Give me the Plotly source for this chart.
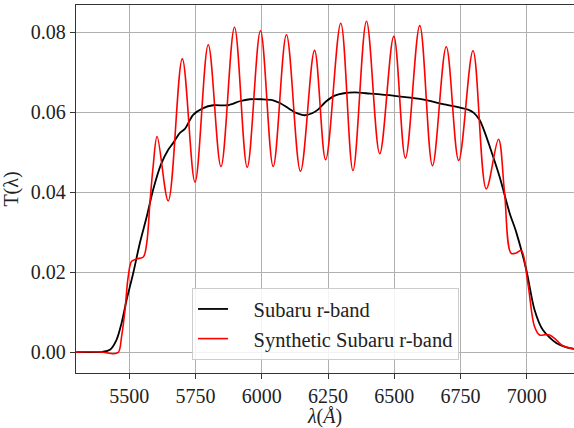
import plotly.graph_objects as go

# Subaru r-band (black)
sub_wl = [5300, 5350, 5400, 5427, 5452, 5471, 5490, 5515, 5540, 5566, 5590, 5620, 5647,
          5666, 5691, 5710, 5741, 5779, 5817, 5873, 5917, 5955, 6000, 6040, 6070, 6099,
          6130, 6162, 6190, 6212, 6240, 6275, 6310, 6351, 6409, 6495, 6596, 6684, 6778,
          6800, 6822, 6841, 6860, 6897, 6935, 6960, 6998, 7029, 7060, 7111, 7150, 7180]
sub_T = [0.0, 0.0, 0.0001, 0.0006, 0.0031, 0.0073, 0.0131, 0.0198, 0.0273, 0.0339, 0.0406,
         0.0470, 0.0506, 0.0523, 0.0548, 0.0558, 0.0593, 0.0610, 0.0617, 0.0617, 0.0627,
         0.0632, 0.0632, 0.0630, 0.0622, 0.0610, 0.0598, 0.0592, 0.0597, 0.0606, 0.0625,
         0.0641, 0.0647, 0.0649, 0.0646, 0.0641, 0.0633, 0.0620, 0.0606, 0.0598, 0.0580,
         0.0550, 0.0514, 0.0439, 0.0348, 0.0300, 0.0206, 0.0106, 0.0056, 0.0023, 0.0012,
         0.0008]

# Synthetic Subaru r-band (red)
syn_wl = [5300, 5350, 5400, 5440, 5459, 5471, 5484, 5496, 5509, 5528, 5553, 5566, 5578,
          5590, 5605, 5647, 5700, 5748, 5798, 5846, 5897, 5945, 5995, 6043, 6093, 6146,
          6199, 6241, 6298, 6344, 6395, 6445, 6498, 6542, 6596, 6644, 6696, 6743, 6797,
          6847, 6893, 6916, 6941, 6960, 6979, 7004, 7029, 7048, 7070, 7086, 7111, 7136,
          7180]
syn_T = [0.0, 0.0001, 0.0, -0.0004, 0.0, 0.0039, 0.0106, 0.0189, 0.0227, 0.0233, 0.0238,
         0.0273, 0.0373, 0.0464, 0.0539, 0.0378, 0.0733, 0.0425, 0.0768, 0.0464, 0.0812,
         0.0462, 0.0803, 0.0464, 0.0793, 0.0452, 0.0754, 0.0481, 0.0822, 0.0454, 0.0827,
         0.0496, 0.0789, 0.0485, 0.0816, 0.0466, 0.0763, 0.0479, 0.0753, 0.0408, 0.0532,
         0.0398, 0.0247, 0.0248, 0.0254, 0.0172, 0.0064, 0.0043, 0.0044, 0.0043, 0.0031,
         0.0016, 0.0008]

x_ticks = [5500, 5750, 6000, 6250, 6500, 6750, 7000]
y_ticks = [0.00, 0.02, 0.04, 0.06, 0.08]

FONT = "Liberation Serif, DejaVu Serif, serif"
PAD = "\u00a0" * 4

fig = go.Figure()
fig.add_trace(go.Scatter(x=sub_wl, y=sub_T, mode="lines", name=PAD + "Subaru r-band",
                         line=dict(color="black", width=1.8, shape="spline", smoothing=0.8)))
fig.add_trace(go.Scatter(x=syn_wl, y=syn_T, mode="lines", name=PAD + "Synthetic Subaru r-band",
                         line=dict(color="red", width=1.6, shape="spline", smoothing=1.0)))

axis_common = dict(showgrid=True, gridcolor="#b0b0b0", gridwidth=1, zeroline=False,
                   showline=True, linecolor="#333333", linewidth=1.3,
                   ticks="outside", ticklen=5, tickcolor="#333333", tickwidth=1.2,
                   tickfont=dict(family=FONT, size=20, color="#222222"))

fig.update_layout(
    width=574, height=428,
    margin=dict(l=76, r=0, t=5, b=55),
    paper_bgcolor="white", plot_bgcolor="white",
    font=dict(family=FONT, size=20, color="#222222"),
    xaxis=dict(range=[5299, 7178], tickvals=x_ticks, ticktext=[str(v) for v in x_ticks],
               mirror=True,
               title=dict(text="<i>λ</i>(<i>Å</i>)", font=dict(family=FONT, size=20), standoff=0),
               **axis_common),
    yaxis=dict(range=[-0.0052, 0.08675], tickvals=y_ticks,
               ticktext=["%.2f" % v for v in y_ticks],
               title=dict(text="T(λ)", font=dict(family=FONT, size=20), standoff=8),
               **axis_common),
    legend=dict(x=0.233, y=0.035, xanchor="left", yanchor="bottom",
                bgcolor="rgba(255,255,255,0.85)", bordercolor="#cccccc", borderwidth=1,
                tracegroupgap=0,
                font=dict(family=FONT, size=20.5, color="#222222")),
    showlegend=True,
)

fig.write_html("out.html")
